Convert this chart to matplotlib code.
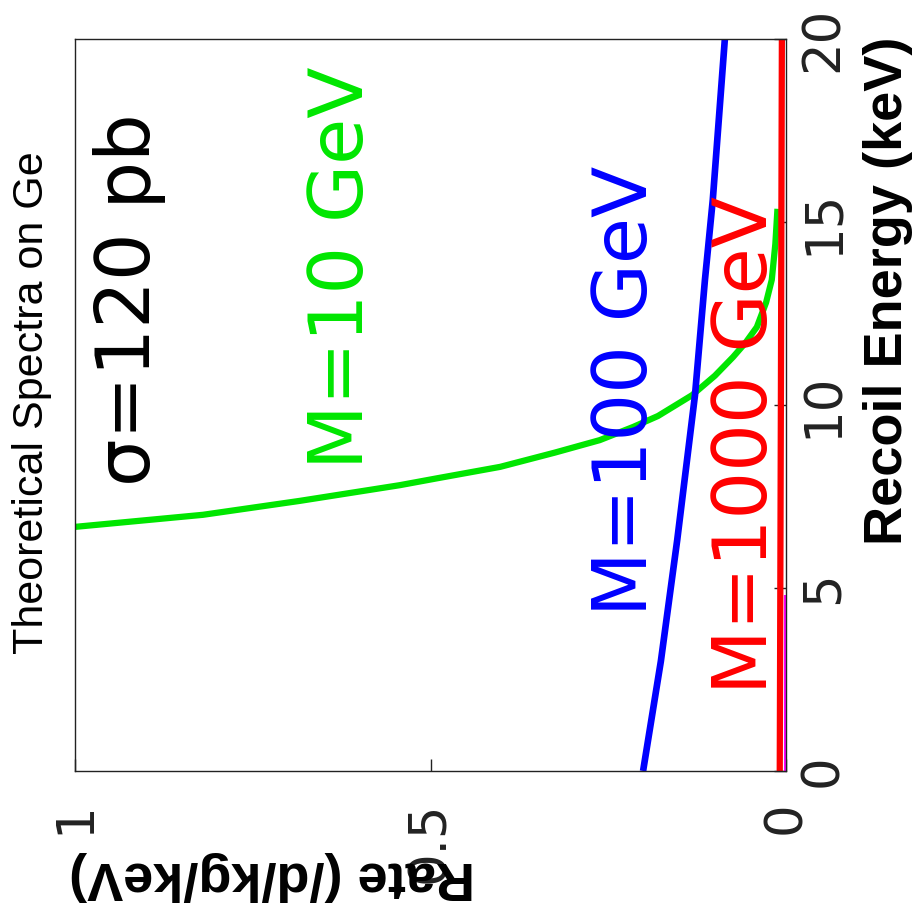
import matplotlib.pyplot as plt
import numpy as np

# data (rate in /d/kg/keV vs recoil energy in keV)
energy_10 = [6.5, 6.67, 7.0, 7.38, 7.81, 8.0, 8.31, 8.7, 9.04, 9.40, 9.7,
             10.27, 10.8, 11.31, 11.7, 12.13, 12.8, 13.42, 14.4, 15.36]
rate_10 = [1.10, 1.00, 0.82, 0.684, 0.543, 0.49, 0.402, 0.325, 0.262, 0.215, 0.18,
           0.132, 0.10, 0.0745, 0.057, 0.041, 0.028, 0.020, 0.015, 0.012]

energy_100 = [0, 3, 6.31, 10.27, 13.42, 15.6, 20]
rate_100 = [0.201, 0.176, 0.153, 0.128, 0.114, 0.103, 0.086]

energy_1000 = [0, 5, 10, 15, 20]
rate_1000 = [0.0088, 0.0080, 0.0072, 0.0065, 0.0058]

energy_extra = [0, 4.8]
rate_extra = [0.002, 0.002]

energy_ticks = [0, 5, 10, 15, 20]
rate_ticks = [0, 0.5, 1]
rate_ticklabels = ["0", "0.5", "1"]

W, H = 913, 922
fig = plt.figure(figsize=(W / 100, H / 100), dpi=100)

# axes box in pixels: x 75..786, y 39..771 (from top)
ax = fig.add_axes([75 / W, 1 - 771 / H, (786 - 75) / W, (771 - 39) / H])

ax.plot(rate_10, energy_10, color='#00e600', lw=4.5, solid_capstyle='butt')
ax.plot(rate_100, energy_100, color='#0000ff', lw=4.8, solid_capstyle='butt')
ax.plot(rate_1000, energy_1000, color='#ff0000', lw=4.5, solid_capstyle='butt')
ax.plot(rate_extra, energy_extra, color='#ff00ff', lw=1.5, solid_capstyle='butt')

ax.set_xlim(1, 0)
ax.set_ylim(0, 20)

for s in ax.spines.values():
    s.set_linewidth(1.0)
    s.set_color('#222222')

# energy axis on the right, rotated labels
ax.yaxis.tick_right()
ax.set_yticks(energy_ticks, [str(e) for e in energy_ticks],
              rotation=90, va='center', ha='left', color='#222222',
              fontsize=37, family='DejaVu Sans')
ax.tick_params(axis='y', direction='in', length=8.5, width=1, pad=9,
               color='#222222')

ax.set_xticks(rate_ticks, rate_ticklabels, rotation=90, va='top', ha='center',
              color='#222222', fontsize=37, family='DejaVu Sans')
ax.tick_params(axis='x', direction='in', length=8.5, width=1, pad=22,
               color='#222222')


def px(x, y):
    return x / W, 1 - y / H


# title and axis labels
fig.text(*px(43, 403), "Theoretical Spectra on Ge", rotation=90,
         rotation_mode='anchor', ha='center', va='baseline',
         fontsize=31, family='Liberation Sans')
fig.text(*px(902, 291), "Recoil Energy (keV)", rotation=90,
         rotation_mode='anchor', ha='center', va='baseline',
         fontsize=39, fontweight='bold', family='Liberation Sans')
fig.text(*px(272, 862), "Rate (/d/kg/keV)", rotation=180,
         rotation_mode='anchor', ha='center', va='baseline',
         fontsize=39, fontweight='bold', family='Liberation Sans')

# annotations inside the plot
kw = dict(rotation=90, rotation_mode='anchor', ha='center', va='baseline',
          fontsize=54, family='DejaVu Sans')
fig.text(*px(150, 300), "σ=120 pb", color='black', **kw)
fig.text(*px(363, 268), "M=10 GeV", color='#00e600', **kw)
fig.text(*px(647, 391), "M=100 GeV", color='#0000ff', **kw)
fig.text(*px(767, 445), "M=1000 GeV", color='#ff0000', **kw)

fig.savefig('out.png', dpi=100)
